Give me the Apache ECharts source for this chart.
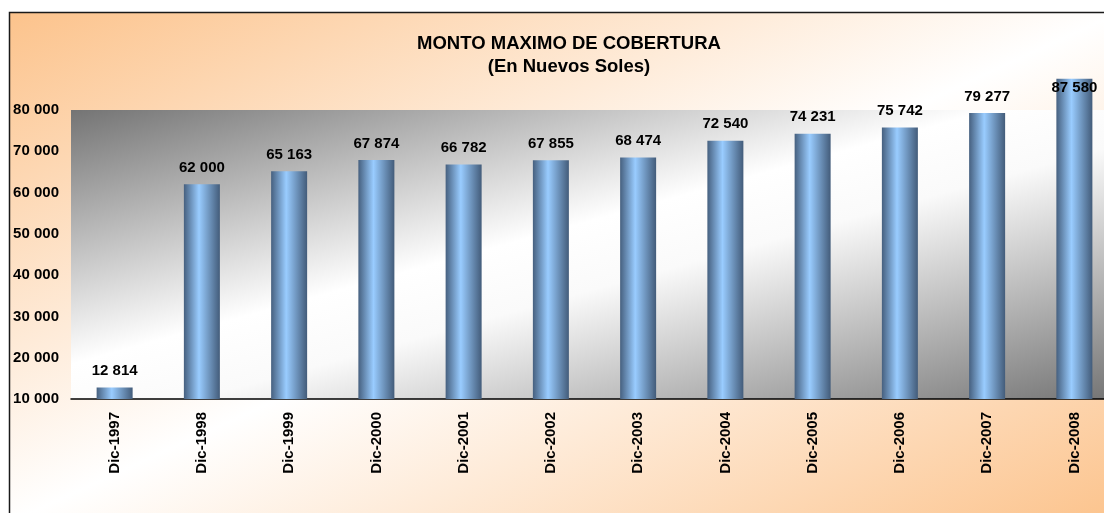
<!DOCTYPE html>
<html>
<head>
<meta charset="utf-8">
<script src="https://cdn.jsdelivr.net/npm/echarts@6/dist/echarts.min.js"></script>
<style>
  html, body { margin: 0; padding: 0; background: #fff; }
  #chart { width: 1104px; height: 513px; }
</style>
</head>
<body>
<div id="chart"></div>
<script>
// data
const categories = ['Dic-1997', 'Dic-1998', 'Dic-1999', 'Dic-2000', 'Dic-2001', 'Dic-2002',
  'Dic-2003', 'Dic-2004', 'Dic-2005', 'Dic-2006', 'Dic-2007', 'Dic-2008']
const montos = [12814, 62000, 65163, 67874, 66782, 67855, 68474, 72540, 74231, 75742, 79277, 87580]
const yMin = 10000
const yMax = 80000   // top of the grey plot area, last labelled tick
const yStep = 10000

// grey plot box (10 000 .. 80 000)
const plot = { left: 71, top: 110, width: 1047, height: 289 }
// the axis runs one step higher so the 2008 bar can poke out of the grey box
const stepPx = plot.height / ((yMax - yMin) / yStep)
const frame = { x: 9.5, y: 12.5, w: 1110, h: 510 }

const font = '"Liberation Sans", Arial, sans-serif'

function fmt(v) {
  return String(v).replace(/\B(?=(\d{3})+(?!\d))/g, ' ')
}

// Excel style diagonal shading: isolines run along the box's anti-diagonal
function diagGradient(x, y, w, h, stops) {
  const k = 2 * w * h / (w * w + h * h)
  return new echarts.graphic.LinearGradient(x, y, x + h * k, y + w * k, stops, true)
}

const barFill = new echarts.graphic.LinearGradient(0, 0, 1, 0, [
  { offset: 0, color: '#46607f' },
  { offset: 0.42, color: '#99ccff' },
  { offset: 1, color: '#435c7a' }
])

const chart = echarts.init(document.getElementById('chart'))

chart.setOption({
  animation: false,
  backgroundColor: '#ffffff',
  textStyle: { fontFamily: font },
  graphic: [
    {
      type: 'rect',
      z: -10,
      silent: true,
      shape: { x: frame.x, y: frame.y, width: frame.w, height: frame.h },
      style: {
        fill: diagGradient(frame.x, frame.y, frame.w, frame.h, [
          { offset: 0, color: '#fcc38c' },
          { offset: 0.5, color: '#ffffff' },
          { offset: 1, color: '#fcc38c' }
        ]),
        stroke: '#1a1a1a',
        lineWidth: 1.5
      }
    },
    {
      type: 'rect',
      z: -9,
      silent: true,
      shape: { x: plot.left, y: plot.top, width: plot.width, height: plot.height },
      style: {
        fill: diagGradient(plot.left, plot.top, plot.width, plot.height, [
          { offset: 0, color: '#747474' },
          { offset: 0.44, color: '#ffffff' },
          { offset: 0.56, color: '#fafafa' },
          { offset: 1, color: '#747474' }
        ])
      }
    }
  ],
  title: {
    text: 'MONTO MAXIMO DE COBERTURA\n(En Nuevos Soles)',
    left: 564,
    top: 27,
    textAlign: 'center',
    textStyle: {
      fontFamily: font,
      fontSize: 18.5,
      fontWeight: 'bold',
      color: '#000',
      lineHeight: 23
    }
  },
  grid: {
    left: plot.left,
    top: plot.top - stepPx,
    width: plot.width,
    height: plot.height + stepPx,
    containLabel: false,
    outerBoundsMode: 'none'
  },
  xAxis: {
    type: 'category',
    data: categories,
    axisLine: { show: true, onZero: false, lineStyle: { color: '#000', width: 1.5 } },
    axisTick: { show: false },
    axisLabel: {
      rotate: 90,
      interval: 0,
      margin: 13,
      fontFamily: font,
      fontSize: 15,
      fontWeight: 'bold',
      color: '#000'
    }
  },
  yAxis: {
    type: 'value',
    min: yMin,
    max: yMax + yStep,
    interval: yStep,
    axisLine: { show: false },
    axisTick: { show: false },
    splitLine: { show: false },
    axisLabel: {
      margin: 12,
      padding: [6, 0, 0, 0],
      fontFamily: font,
      fontSize: 15,
      fontWeight: 'bold',
      color: '#000',
      formatter: v => (v > yMax ? '' : fmt(v))
    }
  },
  series: [
    {
      type: 'bar',
      barWidth: 36,
      data: montos.map(v => ({
        value: v,
        // values above the grey box get their label pulled inside the bar
        label: v > yMax ? { position: 'insideTop', distance: 2 } : undefined
      })),
      itemStyle: { color: barFill },
      label: {
        show: true,
        position: 'top',
        distance: 9,
        fontFamily: font,
        fontSize: 15,
        fontWeight: 'bold',
        color: '#000',
        formatter: p => fmt(p.value)
      }
    }
  ]
})
</script>
</body>
</html>
